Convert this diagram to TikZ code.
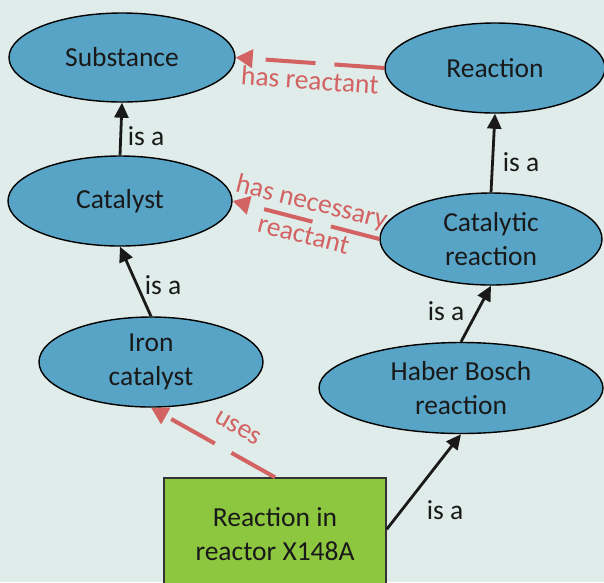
\documentclass[tikz,border=0pt]{standalone}
\usepackage{fontspec}
\setmainfont{Carlito}
\usetikzlibrary{shapes.geometric,arrows.meta}
\definecolor{bgc}{RGB}{223,236,233}
\definecolor{ellblue}{RGB}{88,164,198}
\definecolor{boxgreen}{RGB}{141,198,63}
\definecolor{relred}{RGB}{211,98,98}
\definecolor{txt}{RGB}{25,25,25}
\tikzset{
  concept/.style={ellipse, draw=black, line width=1.4pt, fill=ellblue, inner sep=0pt, align=center, text=txt, font=\fontsize{27.5}{34}\selectfont},
  instance/.style={rectangle, draw=black!80, line width=1.4pt, fill=boxgreen, inner sep=0pt, align=center, text=txt, font=\fontsize{27.5}{34}\selectfont},
  isa/.style={draw=txt, line width=2.8pt, -{Triangle[length=15pt,width=14pt]}},
  rel/.style={draw=relred, line width=4pt, dash pattern=on 50pt off 19pt, -{Triangle[length=17pt,width=18pt]}},
  isalabel/.style={text=txt, font=\fontsize{27.5}{34}\selectfont, inner sep=0pt},
  rellabel/.style={text=relred, font=\fontsize{27.5}{34}\selectfont, inner sep=0pt, align=center},
}
\begin{document}
\begin{tikzpicture}[x=1pt,y=-1pt]
\useasboundingbox (0,0) rectangle (604,582);
\clip (0,0) rectangle (604,582);
\fill[bgc] (0,0) rectangle (604,582);

\node[concept, minimum width=226pt, minimum height=89pt] (sub) at (122,57.5) {Substance};
\node[concept, minimum width=220pt, minimum height=90pt] (rea) at (495,68) {Reaction};
\node[concept, minimum width=224pt, minimum height=90pt] (cat) at (120,201) {Catalyst};
\node[concept, minimum width=222pt, minimum height=92pt] (crx) at (491,239) {Catalytic\\reaction};
\node[concept, minimum width=224pt, minimum height=90pt] (iron) at (151,362) {Iron\\catalyst};
\node[concept, minimum width=284pt, minimum height=91pt] (hab) at (461,388) {Haber Bosch\\reaction};
\node[instance, minimum width=222pt, minimum height=112pt] (box) at (275,534) {Reaction in\\reactor X148A};

\draw[isa] (cat.north) -- (sub.south);
\draw[isa] (crx.north) -- (rea.south);
\draw[isa] (iron.north) -- (cat.south);
\draw[isa] (hab.north) -- (crx.south);
\draw[isa] ([yshift=-52pt]box.north east) -- (hab.south);

\draw[rel] (rea.west) -- (sub.east);
\draw[rel] (crx.west) -- (cat.east);
\draw[rel] (box.north) -- (iron.south);

\node[isalabel] (l1) at (146,136.5) {is a};
\node[isalabel] (l2) at (521,162) {is a};
\node[isalabel] (l3) at (163,285) {is a};
\node[isalabel] (l4) at (446,311) {is a};
\node[isalabel] (l5) at (445,510) {is a};

\node[rellabel, rotate=-4] (r1) at (310,80) {has reactant};
\node[rellabel, rotate=-14] (r2) at (308,217.5) {has necessary\\reactant};
\node[rellabel, rotate=-30] (r3) at (238,428) {uses};
\end{tikzpicture}
\end{document}
